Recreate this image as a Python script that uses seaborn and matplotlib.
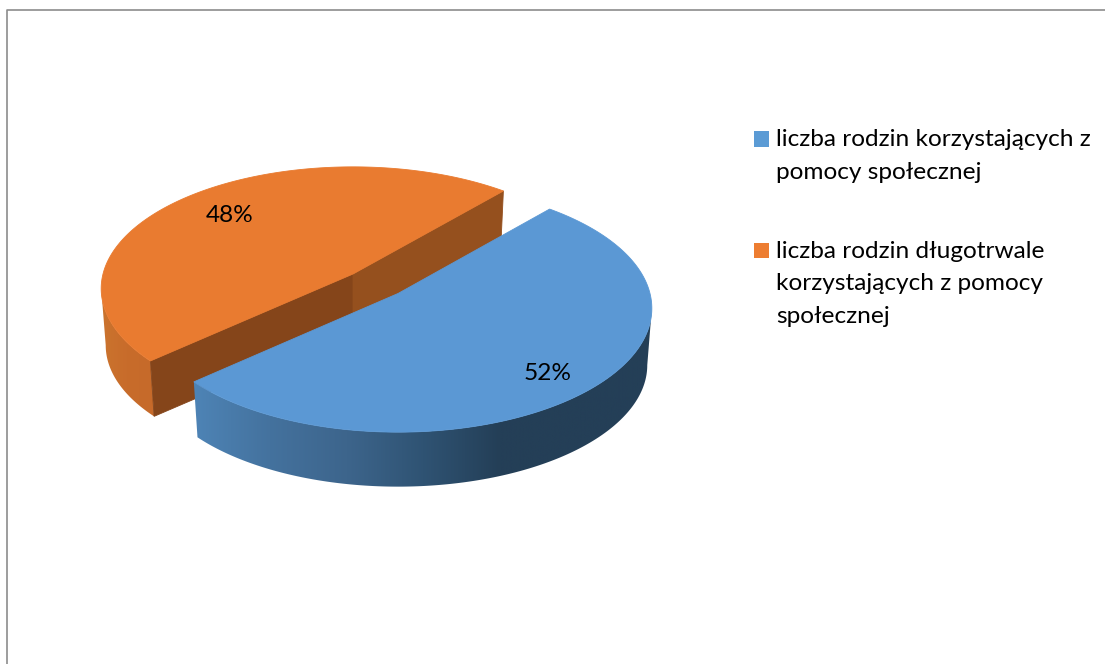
import numpy as np
import pandas as pd
import seaborn as sns
import matplotlib
matplotlib.use("Agg")
import matplotlib.pyplot as plt
from matplotlib.patches import Patch, Polygon
from matplotlib.colors import LinearSegmentedColormap

# ---- data ----
categories = ["liczba rodzin korzystających z\npomocy społecznej",
              "liczba rodzin długotrwale\nkorzystających z pomocy\nspołecznej"]
shares = [52, 48]
top_colors = ["#5b98d4", "#e97b30"]
legend_colors = ["#5b9bd5", "#ed7d31"]
rim_stops = [["#4e84b6", "#44729e", "#3d658c", "#2f5373", "#243f57"],
             ["#cb742e", "#c86c2b", "#c66a2a"]]
face_colors = ["#85451a", "#95501e"]
df = pd.DataFrame({"category": categories, "share": shares})

# ---- pie geometry (pixels of the figure) ----
START_DEG = 49.0                      # where the first slice starts
CENTERS = [(398, 293.5), (353, 274)]  # exploded slice apexes
RADII_X = [252.0, 250.0]
RADII_Y = [122.0, 120.0]
PERSP, DEPTH, SHRINK = 0.12, 57.0, 0.982


def project(theta, i, lower=False):
    u, v = np.cos(theta), np.sin(theta)
    w = 1 + PERSP * v
    s = SHRINK if lower else 1.0
    return (CENTERS[i][0] + s * RADII_X[i] * u / w,
            CENTERS[i][1] + (DEPTH if lower else 0) - s * RADII_Y[i] * v / w)


sns.set_theme(style="white")
plt.rcParams["font.family"] = ["Lato", "DejaVu Sans"]
fig = plt.figure(figsize=(11.05, 6.64), dpi=100, facecolor="white")
ax = fig.add_axes([0, 0, 1, 1])

# chart border
ax.plot([6.5, 6.5, 1105], [664, 9.5, 9.5], color="#8c8c8c", lw=1.2, zorder=1)

# slice angles follow the values (clockwise from START_DEG)
fractions = df["share"].to_numpy() / df["share"].sum()
edges = np.deg2rad(START_DEG) - 2 * np.pi * np.concatenate([[0], np.cumsum(fractions)])

# the orange slice (index 1) sits behind, so it is drawn first
for i in [1, 0]:
    c = CENTERS[i]
    th = np.linspace(edges[i], edges[i + 1], 480)
    cmap = LinearSegmentedColormap.from_list("rim", rim_stops[i])
    tx, ty = project(th, i)
    bx, by = project(th, i, lower=True)
    # rim: a horizontal gradient clipped to the visible band of the side wall,
    # which runs from the slice's cut edge to its outermost point
    if i == 0:
        keep = np.arange(np.argmax(tx), len(th))
        x_lo, x_hi = 192, 500
    else:
        keep = np.arange(0, np.argmin(tx) + 1)
        x_lo, x_hi = 101, 152
    px = np.r_[tx[keep], bx[keep][::-1]]
    py = np.r_[ty[keep], by[keep][::-1]]
    x0, x1 = px.min(), px.max()
    ramp = np.clip((np.linspace(x0, x1, 600) - x_lo) / (x_hi - x_lo), 0, 1)[None, :]
    im = ax.imshow(ramp, cmap=cmap, vmin=0, vmax=1, aspect="auto",
                   extent=(x0, x1, py.max(), py.min()), zorder=2 + (1 - i) * 3)
    im.set_clip_path(Polygon(np.c_[px, py], closed=True, transform=ax.transData))
    # cut faces of the rear slice
    if i == 1:
        for idx, col in zip([0, -1], face_colors):
            ax.fill([c[0], tx[idx], bx[idx], c[0]],
                    [c[1], ty[idx], by[idx], c[1] + DEPTH],
                    color=col, lw=0.6, zorder=3)
    # top surface
    ax.fill(np.r_[c[0], tx], np.r_[c[1], ty], color=top_colors[i], lw=0.6,
            zorder=4 + (1 - i) * 3)

ax.set_xlim(0, 1105)
ax.set_ylim(664, 0)
ax.axis("off")

# percentage labels
label_xy = [(548, 373), (230, 215)]
for (x, y), v in zip(label_xy, df["share"]):
    ax.text(x, y, f"{v}%", ha="center", va="center", fontsize=17.6, color="#000000", zorder=10)

# legend
handles = [Patch(facecolor=col, edgecolor="none") for col in legend_colors]
leg = ax.legend(handles, df["category"].tolist(), loc="upper left",
                bbox_to_anchor=(754, 129), bbox_transform=ax.transData,
                frameon=False, fontsize=17.6, handlelength=0.61, handleheight=0.61,
                handletextpad=0.29, labelspacing=2.36, borderpad=0, borderaxespad=0)
for txt in leg.get_texts():
    txt.set_linespacing(1.70)
    txt.set_color("#000000")
for patch, lines in zip(leg.get_patches(), [2, 3]):
    patch.set_y(patch.get_y() + (lines - 1) * 12.05)

fig.savefig("out.png", dpi=100, facecolor="white")
